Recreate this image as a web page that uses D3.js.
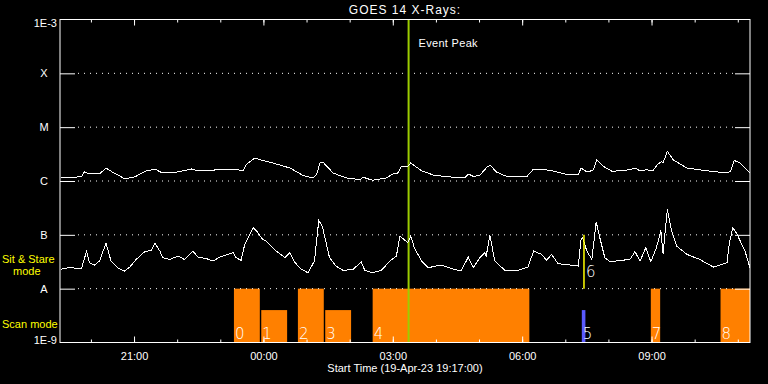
<!DOCTYPE html>
<html>
<head>
<meta charset="utf-8">
<script src="https://cdn.jsdelivr.net/npm/d3@7"></script>
<style>
  html, body { margin: 0; padding: 0; background: #000; }
  svg text { font-family: "Liberation Sans", Arial, sans-serif; font-size: 11px; fill: #fff; }
</style>
</head>
<body>
<div id="chart"></div>
<script>
// minutes after start time (19-Apr-23 19:17:00)
const longMin = [1, 14, 22, 30, 34, 41, 55, 64, 72, 81, 90, 104, 118, 132, 141, 160, 183, 192, 215, 229,
  241, 255, 259, 271, 278, 296, 320, 338, 352, 357, 362, 367, 380, 398, 417, 422, 435, 454, 463, 470,
  475, 484, 488, 503, 521, 549, 563, 568, 575, 584, 595, 599, 607, 623, 649, 658, 670, 688, 702, 721,
  725, 732, 737, 742, 747, 756, 768, 793, 800, 807, 816, 825, 831, 837, 839, 845, 853, 872, 900, 928,
  933, 938, 946, 960];
// long channel flux, W/m^2 (x 1e-6)
const longFlux = [1.14, 1.14, 1.18, 1.22, 1.47, 1.35, 1.35, 1.74, 1.49, 1.28, 1.10, 1.19, 1.51, 1.67, 1.44, 1.44, 1.67, 1.55, 1.60, 1.67,
  1.67, 1.55, 2.01, 2.68, 2.49, 2.16, 1.74, 1.27, 1.14, 1.31, 2.25, 2.16, 1.41, 1.14, 1.06, 1.17, 1.03, 1.14, 1.35, 1.41,
  1.87, 1.87, 2.16, 1.55, 1.27, 1.17, 1.14, 1.35, 1.22, 1.27, 1.87, 1.95, 1.47, 1.19, 1.19, 1.62, 1.67, 1.51, 1.35, 1.31,
  1.74, 1.50, 1.51, 1.62, 2.49, 1.87, 1.51, 1.62, 1.74, 1.55, 1.62, 1.55, 2.01, 2.31, 2.16, 3.55, 2.49, 1.74, 1.55, 1.41,
  1.51, 2.41, 2.16, 1.41];

const shortMin = [1, 11, 30, 33, 37, 41, 48, 55, 64, 71, 81, 90, 97, 106, 118, 127, 132, 139, 143, 153,
  164, 173, 185, 192, 204, 213, 222, 231, 241, 245, 252, 257, 269, 273, 282, 287, 301, 313, 320, 327,
  336, 345, 354, 360, 365, 375, 384, 394, 408, 419, 424, 435, 447, 459, 468, 473, 484, 488, 493, 503,
  512, 530, 544, 558, 568, 575, 584, 591, 593, 598, 605, 619, 637, 651, 659, 670, 677, 684, 693, 711,
  721, 725, 727, 733, 740, 746, 751, 758, 765, 793, 800, 807, 815, 822, 829, 832, 836, 839, 845, 851,
  858, 872, 890, 909, 928, 931, 936, 941, 953, 960];
// short channel flux, W/m^2 (x 1e-8)
const shortFlux = [2.28, 2.45, 2.38, 3.26, 4.99, 3.04, 2.74, 3.26, 7.03, 3.26, 2.38, 2.12, 2.52, 3.50, 4.87, 5.15, 6.95, 4.99, 3.76, 3.50,
  4.03, 3.50, 4.99, 3.86, 3.61, 3.26, 3.86, 4.21, 4.67, 3.76, 3.36, 6.65, 13.5, 12.0, 8.24, 7.67, 4.99, 3.76, 4.67, 3.04,
  2.28, 1.98, 3.26, 18.4, 14.4, 3.76, 2.63, 2.19, 2.28, 3.17, 2.19, 1.98, 2.19, 3.26, 4.03, 9.50, 7.14, 9.50, 5.77, 3.26,
  2.45, 2.74, 2.38, 2.12, 3.86, 2.45, 3.76, 4.67, 4.03, 9.90, 3.26, 2.19, 2.19, 2.52, 4.99, 4.34, 3.36, 4.34, 2.91, 2.74,
  2.63, 8.24, 8.86, 4.99, 3.50, 17.4, 8.86, 3.76, 3.17, 3.50, 4.87, 3.26, 5.77, 3.17, 5.37, 7.47, 12.0, 4.47, 29.5, 11.7,
  6.19, 4.34, 3.50, 2.52, 3.04, 6.65, 13.5, 10.9, 4.99, 2.45];

// observing modes: start / end minute, bar top flux, label, kind
const modeStart = [242, 280, 331, 369, 435, 726, 822, 919];
const modeEnd   = [278, 316, 367, 405, 653, 731, 835, 960];
const modeTop   = [1e-8, 4e-9, 1e-8, 4e-9, 1e-8, 4e-9, 1e-8, 1e-8];
const modeLabel = ["0", "1", "2", "3", "4", "5", "7", "8"];
const modeKind  = ["scan", "scan", "scan", "scan", "scan", "other", "scan", "scan"];

// sit & stare marker
const stareMin = [729];
const stareLabel = ["6"];
const stareRange = [1e-8, 1e-7];

const eventPeakMin = 485;

const classLevels = [1e-8, 1e-7, 1e-6, 1e-5, 1e-4];
const classNames  = ["A", "B", "C", "M", "X"];

const W = 768, H = 384;
const plotL = 60, plotR = 750, plotT = 19.5, plotB = 342.5;

const start = new Date(2023, 3, 19, 19, 17, 0);
const end = d3.timeMinute.offset(start, 960);
const t = m => d3.timeMinute.offset(start, m);

const x = d3.scaleTime().domain([start, end]).range([plotL, plotR]);
const y = d3.scaleLog().domain([1e-9, 1e-3]).range([plotB, plotT]);

const svg = d3.select("#chart").append("svg")
  .attr("width", W).attr("height", H)
  .style("display", "block");

svg.append("rect").attr("width", W).attr("height", H).attr("fill", "#000");

// mode bars
const kindColor = { scan: "#ff8000", other: "#5a5aff" };
svg.selectAll("rect.mode")
  .data(modeStart)
  .enter().append("rect")
  .attr("class", "mode")
  .attr("x", (d, i) => x(t(d)))
  .attr("width", (d, i) => Math.max(3, x(t(modeEnd[i])) - x(t(d))))
  .attr("y", (d, i) => y(modeTop[i]))
  .attr("height", (d, i) => plotB - y(modeTop[i]))
  .attr("fill", (d, i) => kindColor[modeKind[i]]);

// dotted class lines
svg.selectAll("line.grid")
  .data(classLevels)
  .enter().append("line")
  .attr("x1", plotL + 18).attr("x2", plotR - 15)
  .attr("y1", d => y(d)).attr("y2", d => y(d))
  .attr("stroke", "#fff")
  .attr("stroke-dasharray", "1,5");

// event peak line
svg.append("line")
  .attr("x1", x(t(eventPeakMin))).attr("x2", x(t(eventPeakMin)))
  .attr("y1", plotT).attr("y2", plotB)
  .attr("stroke", "#9ccc00").attr("stroke-width", 2);

svg.append("text")
  .attr("x", x(t(eventPeakMin)) + 10).attr("y", 47)
  .style("letter-spacing", "0.3px")
  .text("Event Peak");

// flux curves
const line = d3.line().x(d => x(t(d[0]))).y(d => y(d[1]));
svg.append("path")
  .datum(longMin.map((m, i) => [m, longFlux[i] * 1e-6]))
  .attr("d", line).attr("fill", "none").attr("stroke", "#fff").attr("stroke-width", 1)
  .attr("shape-rendering", "crispEdges");
svg.append("path")
  .datum(shortMin.map((m, i) => [m, shortFlux[i] * 1e-8]))
  .attr("d", line).attr("fill", "none").attr("stroke", "#fff").attr("stroke-width", 1)
  .attr("shape-rendering", "crispEdges");

// sit & stare marker
svg.selectAll("line.stare")
  .data(stareMin)
  .enter().append("line")
  .attr("x1", d => x(t(d))).attr("x2", d => x(t(d)))
  .attr("y1", y(stareRange[0])).attr("y2", y(stareRange[1]))
  .attr("stroke", "#ffff00").attr("stroke-width", 1.5);

svg.selectAll("text.stare")
  .data(stareMin)
  .enter().append("text")
  .attr("x", d => x(t(d)) + 2).attr("y", 277)
  .style("font-family", "DejaVu Sans").style("font-weight", "200").style("font-size", "15px")
  .text((d, i) => stareLabel[i]);

// mode labels
svg.selectAll("text.mode")
  .data(modeStart)
  .enter().append("text")
  .attr("x", d => x(t(d)) + 1).attr("y", 338.5)
  .style("font-family", "DejaVu Sans").style("font-weight", "200").style("font-size", "15px")
  .text((d, i) => modeLabel[i]);

// frame
svg.append("rect")
  .attr("x", plotL).attr("y", plotT)
  .attr("width", plotR - plotL).attr("height", plotB - plotT)
  .attr("fill", "none").attr("stroke", "#fff");

// time axes, ticks inside
const major = d3.timeHour.every(3), minor = d3.timeHour.every(1);
svg.append("g").attr("transform", `translate(0,${plotB})`)
  .call(d3.axisBottom(x).ticks(minor).tickSize(-3).tickFormat(""));
svg.append("g").attr("transform", `translate(0,${plotB})`)
  .call(d3.axisBottom(x).ticks(major).tickSize(-6).tickPadding(10).tickFormat(d3.timeFormat("%H:%M")));
svg.append("g").attr("transform", `translate(0,${plotT})`)
  .call(d3.axisTop(x).ticks(minor).tickSize(-3).tickFormat(""));
svg.append("g").attr("transform", `translate(0,${plotT})`)
  .call(d3.axisTop(x).ticks(major).tickSize(-6).tickFormat(""));

// class axes
svg.append("g").attr("transform", `translate(${plotL},0)`)
  .call(d3.axisLeft(y).tickValues(classLevels).tickSize(-15).tickFormat((d, i) => classNames[i]))
  .call(g => g.selectAll("text").attr("text-anchor", "middle").attr("x", -16));
svg.append("g").attr("transform", `translate(${plotR},0)`)
  .call(d3.axisRight(y).tickValues(classLevels).tickSize(-15).tickFormat(""));

svg.selectAll(".domain").remove();
svg.selectAll(".tick line").attr("stroke", "#fff");
svg.selectAll(".tick text").attr("fill", "#fff")
  .style("font-family", "Liberation Sans, Arial, sans-serif").style("font-size", "11px");

svg.append("text").attr("x", 57).attr("y", 27).attr("text-anchor", "end").text("1E-3");
svg.append("text").attr("x", 57).attr("y", 344).attr("text-anchor", "end").text("1E-9");

// titles
svg.append("text").attr("x", (plotL + plotR) / 2).attr("y", 14)
  .attr("text-anchor", "middle").style("font-size", "12px").style("letter-spacing", "1px")
  .text("GOES 14 X-Rays:");
svg.append("text").attr("x", (plotL + plotR) / 2).attr("y", 372)
  .attr("text-anchor", "middle")
  .text("Start Time (19-Apr-23 19:17:00)");

svg.append("text").attr("x", 2).attr("y", 263).style("fill", "#ffff00").text("Sit & Stare");
svg.append("text").attr("x", 13).attr("y", 275).style("fill", "#ffff00").text("mode");
svg.append("text").attr("x", 2).attr("y", 328).style("fill", "#ffff00").text("Scan mode");
</script>
</body>
</html>
